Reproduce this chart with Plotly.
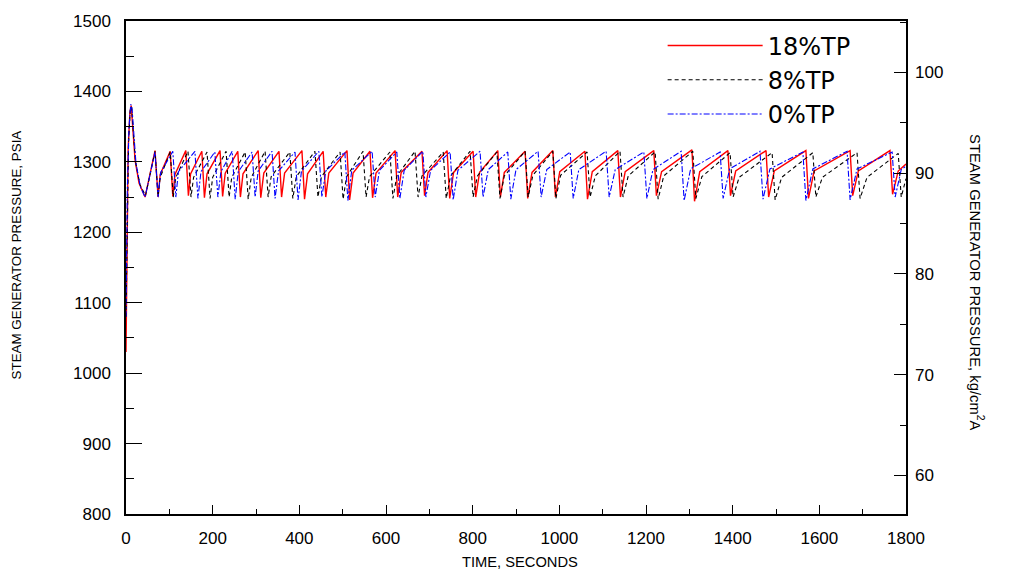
import plotly.graph_objects as go

# ---------------- data ----------------
red_time = [0, 2, 5, 9, 12, 16, 21, 30, 44,
            67, 74, 79, 102, 108, 113, 138, 144, 149, 175, 181, 187, 217, 223, 229,
            258, 264, 270, 305, 311, 318, 353, 359, 366, 406, 412, 419, 455, 461, 468,
            510, 516, 524, 563, 569, 577, 621, 627, 635, 683, 689, 697, 741, 747, 756,
            801, 807, 816, 858, 864, 873, 921, 927, 937, 985, 991, 1001, 1059, 1065, 1076,
            1135, 1141, 1152, 1218, 1224, 1236, 1306, 1312, 1324, 1389, 1395, 1407,
            1477, 1483, 1496, 1569, 1575, 1588, 1671, 1677, 1690, 1763, 1769, 1782, 1800]
red_psia = [1030, 1200, 1320, 1370, 1380, 1345, 1302, 1270, 1250,
            1316, 1250, 1282, 1315, 1251, 1282, 1316, 1252, 1283, 1315, 1249, 1283, 1316, 1251, 1284,
            1315, 1250, 1283, 1316, 1249, 1284, 1315, 1250, 1284, 1316, 1247, 1283, 1315, 1250, 1284,
            1316, 1246, 1284, 1315, 1249, 1284, 1316, 1250, 1285, 1315, 1252, 1285, 1316, 1248, 1285,
            1315, 1250, 1285, 1316, 1250, 1285, 1315, 1248, 1285, 1316, 1250, 1286, 1315, 1247, 1286,
            1316, 1250, 1286, 1316, 1252, 1286, 1317, 1244, 1286, 1316, 1252, 1287,
            1316, 1250, 1287, 1316, 1248, 1287, 1316, 1252, 1287, 1316, 1254, 1287, 1297]

black_time = [0, 3, 6, 10, 13, 17, 22, 32, 45,
              67, 74, 79, 102, 109, 115, 143, 150, 156, 187, 194, 200, 231, 238, 244,
              275, 282, 289, 321, 328, 335, 378, 385, 393, 436, 443, 451, 494, 501, 509,
              547, 554, 562, 609, 616, 625, 667, 674, 683, 732, 739, 749, 794, 801, 811,
              856, 863, 873, 921, 928, 939, 985, 992, 1003, 1064, 1071, 1083, 1140, 1147, 1159,
              1221, 1228, 1241, 1308, 1315, 1329, 1394, 1401, 1415, 1491, 1498, 1513,
              1585, 1592, 1607, 1687, 1694, 1710, 1782, 1789, 1800]
black_psia = [1080, 1250, 1330, 1375, 1378, 1340, 1300, 1268, 1252,
              1315, 1251, 1278, 1314, 1250, 1278, 1315, 1250, 1278, 1314, 1248, 1278, 1315, 1250, 1278,
              1314, 1247, 1278, 1315, 1250, 1279, 1314, 1248, 1279, 1315, 1250, 1279, 1314, 1247, 1279,
              1315, 1250, 1279, 1314, 1248, 1280, 1315, 1250, 1280, 1314, 1248, 1280, 1315, 1250, 1280,
              1314, 1248, 1280, 1315, 1250, 1281, 1315, 1248, 1281, 1314, 1250, 1280, 1315, 1250, 1280,
              1314, 1247, 1280, 1315, 1248, 1279, 1313, 1250, 1278, 1313, 1246, 1278,
              1313, 1250, 1278, 1313, 1248, 1278, 1312, 1250, 1276]

blue_time = [0, 3, 7, 11, 14, 18, 23, 33, 44,
             67, 74, 80, 108, 115, 121, 159, 166, 173, 205, 212, 219, 245, 252, 259,
             291, 298, 305, 337, 344, 352, 390, 397, 405, 445, 452, 461, 505, 512, 521,
             568, 575, 585, 625, 632, 642, 685, 692, 703, 748, 755, 766, 817, 824, 836,
             881, 888, 900, 951, 958, 971, 1025, 1032, 1045, 1108, 1115, 1129, 1195, 1202, 1216,
             1281, 1288, 1303, 1371, 1378, 1393, 1463, 1470, 1486, 1562, 1569, 1585,
             1664, 1671, 1687, 1768, 1775, 1789, 1800]
blue_psia = [1080, 1260, 1350, 1382, 1375, 1335, 1298, 1265, 1250,
             1314, 1250, 1285, 1315, 1250, 1286, 1315, 1248, 1286, 1314, 1250, 1286, 1315, 1247, 1286,
             1314, 1250, 1287, 1315, 1248, 1287, 1314, 1246, 1287, 1315, 1250, 1287, 1314, 1245, 1288,
             1315, 1250, 1288, 1314, 1248, 1288, 1315, 1250, 1288, 1314, 1246, 1288, 1315, 1250, 1289,
             1314, 1247, 1289, 1315, 1250, 1289, 1314, 1248, 1289, 1315, 1250, 1289, 1314, 1248, 1289,
             1315, 1245, 1290, 1314, 1248, 1290, 1315, 1247, 1290, 1314, 1245, 1290,
             1315, 1246, 1290, 1314, 1250, 1289, 1294]

series_names = ["18%TP", "8%TP", "0%TP"]

x_ticks = [0, 200, 400, 600, 800, 1000, 1200, 1400, 1600, 1800]
psia_ticks = [800, 900, 1000, 1100, 1200, 1300, 1400, 1500]
kg_ticks = [60, 70, 80, 90, 100]
kg_range = [56.17, 105.11]       # right-axis limits
KG_PER_PSI = 0.0703              # unit conversion for the invisible right-axis companion trace

# ---------------- figure ----------------
TICK_FONT = dict(family="Arial, Liberation Sans, sans-serif", size=17, color="black")
TITLE_FAMILY = "Arial, Liberation Sans, sans-serif"

fig = go.Figure()
fig.add_trace(go.Scatter(x=red_time, y=red_psia, mode="lines", name=series_names[0],
                         line=dict(color="#ff0000", width=1.4)))
fig.add_trace(go.Scatter(x=black_time, y=black_psia, mode="lines", name=series_names[1],
                         line=dict(color="#000000", width=1.1, dash="4px,3px")))
fig.add_trace(go.Scatter(x=blue_time, y=blue_psia, mode="lines", name=series_names[2],
                         line=dict(color="#0000ff", width=1.1, dash="6px,2px,2px,2px")))
# invisible companion on the kg/cm2 axis so that the right-hand axis is drawn
fig.add_trace(go.Scatter(x=red_time, y=[p * KG_PER_PSI for p in red_psia], yaxis="y2",
                         mode="lines", line=dict(width=0, color="rgba(0,0,0,0)"),
                         showlegend=False, hoverinfo="skip"))

fig.update_layout(
    width=1009, height=573,
    margin=dict(l=126, r=103, t=16, b=59),
    paper_bgcolor="white", plot_bgcolor="white",
    showlegend=True,
    legend=dict(x=0.688, y=0.995, xanchor="left", yanchor="top",
                bgcolor="rgba(0,0,0,0)", borderwidth=0,
                font=dict(family="DejaVu Sans, Arial", size=24, color="black"),
                itemwidth=95, tracegroupgap=0),
    xaxis=dict(range=[0, 1800], tickvals=x_ticks, ticks="inside", ticklen=9, tickwidth=1.3,
               tickcolor="black", showline=True, linecolor="black", linewidth=1.5, mirror=True,
               showgrid=False, zeroline=False, tickfont=TICK_FONT, ticklabelstandoff=8,
               minor=dict(dtick=100, ticks="inside", ticklen=5, tickwidth=1.2, tickcolor="black",
                          showgrid=False)),
    yaxis=dict(range=[800, 1500], tickvals=psia_ticks, ticks="inside", ticklen=16, tickwidth=1.3,
               tickcolor="black", showline=True, linecolor="black", linewidth=1.5, mirror=True,
               showgrid=False, zeroline=False, tickfont=TICK_FONT, ticklabelstandoff=10,
               minor=dict(dtick=50, ticks="inside", ticklen=8, tickwidth=1.2, tickcolor="black",
                          showgrid=False)),
    yaxis2=dict(range=kg_range, overlaying="y", side="right",
                anchor="x", tickvals=kg_ticks, ticks="inside", ticklen=12, tickwidth=1.3,
                tickcolor="black", showline=False, showgrid=False, zeroline=False,
                tickfont=TICK_FONT, ticklabelstandoff=8,
                minor=dict(dtick=5, ticks="inside", ticklen=6, tickwidth=1.2, tickcolor="black",
                           showgrid=False)),
)

fig.add_annotation(text="STEAM GENERATOR PRESSURE, PSIA", xref="paper", yref="paper",
                   x=-0.14, y=0.526, textangle=-90, showarrow=False,
                   xanchor="center", yanchor="middle",
                   font=dict(family=TITLE_FAMILY, size=13.4, color="black"))
fig.add_annotation(text="STEAM GENERATOR PRESSURE, kg/cm<sup>2</sup>A", xref="paper", yref="paper",
                   x=1.09, y=0.47, textangle=90, showarrow=False,
                   xanchor="center", yanchor="middle",
                   font=dict(family=TITLE_FAMILY, size=14.8, color="black"))
fig.add_annotation(text="TIME, SECONDS", xref="paper", yref="paper",
                   x=0.505, y=-0.098, showarrow=False,
                   xanchor="center", yanchor="middle",
                   font=dict(family=TITLE_FAMILY, size=14.7, color="black"))

fig.write_html("out.html")
